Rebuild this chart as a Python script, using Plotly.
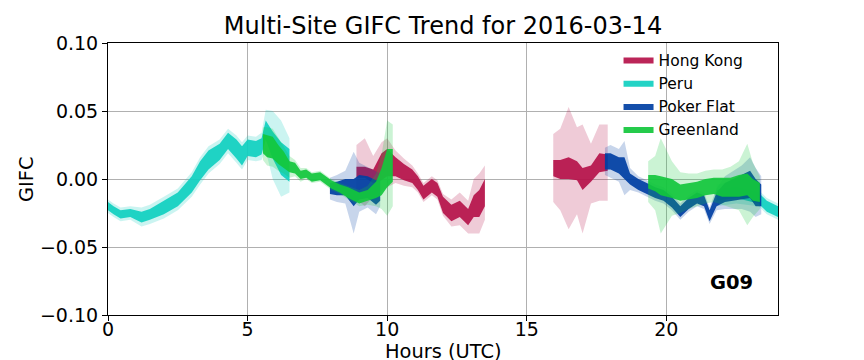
import plotly.graph_objects as go

# ---- data (None separates time segments) ----
# each series: time (h), centre value, half-width of dense core, half-width of sparse halo
HK_T    = [8.9, 9.2, 9.5, 9.8, 10.0, 10.3, 10.6, 10.9, 11.1, 11.3, 11.6, 11.8, 12.0, 12.3, 12.6, 12.9, 13.1, 13.3, 13.5,
           None, 15.95, 16.2, 16.5, 16.8, 17.0, 17.3, 17.6, 17.9]
HK_MID  = [0.005, 0.005, 0.002, 0.009, 0.012, 0.009, 0.005, 0.002, -0.003, -0.010, -0.005, -0.008, -0.019, -0.025, -0.022, -0.028, -0.020, -0.018, -0.010,
           None, 0.008, 0.007, 0.008, 0.006, 0.000, 0.004, 0.012, 0.012]
HK_CORE = [0.004, 0.004, 0.005, 0.010, 0.010, 0.007, 0.006, 0.005, 0.005, 0.005, 0.005, 0.005, 0.006, 0.006, 0.006, 0.006, 0.008, 0.010, 0.010,
           None, 0.006, 0.007, 0.008, 0.007, 0.008, 0.006, 0.007, 0.006]
HK_HALO = [0.020, 0.025, 0.015, 0.018, 0.018, 0.012, 0.010, 0.008, 0.007, 0.007, 0.007, 0.007, 0.008, 0.010, 0.012, 0.012, 0.020, 0.022, 0.020,
           None, 0.025, 0.030, 0.045, 0.032, 0.040, 0.022, 0.028, 0.028]

PERU_T    = [0.0, 0.2, 0.45, 0.8, 1.2, 1.5, 2.0, 2.5, 3.0, 3.3, 3.6, 4.0, 4.3, 4.6, 4.8, 5.0, 5.3, 5.5, 5.65, 5.9, 6.2, 6.5,
             None, 21.8, 22.5, 23.3, 23.6, 24.0]
PERU_MID  = [-0.020, -0.023, -0.026, -0.025, -0.028, -0.026, -0.021, -0.015, -0.004, 0.006, 0.014, 0.020, 0.028, 0.022, 0.017, 0.023, 0.022, 0.024, 0.036, 0.025, 0.015, 0.010,
             None, -0.012, -0.010, -0.014, -0.020, -0.024]
PERU_CORE = [0.003, 0.003, 0.003, 0.003, 0.004, 0.004, 0.005, 0.005, 0.006, 0.007, 0.007, 0.006, 0.006, 0.007, 0.007, 0.006, 0.006, 0.006, 0.007, 0.010, 0.012, 0.012,
             None, 0.004, 0.004, 0.004, 0.004, 0.004]
PERU_HALO = [0.005, 0.005, 0.005, 0.005, 0.007, 0.007, 0.008, 0.008, 0.009, 0.010, 0.010, 0.009, 0.009, 0.010, 0.010, 0.009, 0.009, 0.010, 0.015, 0.025, 0.028, 0.020,
             None, 0.008, 0.008, 0.006, 0.006, 0.006]

PF_T    = [7.95, 8.2, 8.5, 8.8, 9.0, 9.3, 9.6, 9.75,
           None, 17.8, 18.0, 18.3, 18.5, 18.7, 19.0, 19.3, 19.6, 19.9, 20.2, 20.5, 20.8, 21.1, 21.35, 21.55, 21.8, 22.1, 22.4, 22.7, 23.0, 23.2, 23.4]
PF_MID  = [-0.007, -0.007, -0.006, -0.010, -0.006, -0.006, -0.010, -0.008,
           None, 0.013, 0.013, 0.010, 0.008, 0.000, -0.004, -0.007, -0.010, -0.012, -0.017, -0.024, -0.018, -0.014, -0.016, -0.027, -0.015, -0.010, -0.008, -0.006, -0.004, -0.010, -0.012]
PF_CORE = [0.004, 0.005, 0.006, 0.010, 0.009, 0.008, 0.009, 0.008,
           None, 0.006, 0.006, 0.006, 0.008, 0.004, 0.004, 0.004, 0.004, 0.004, 0.004, 0.004, 0.004, 0.004, 0.004, 0.004, 0.005, 0.007, 0.008, 0.009, 0.010, 0.010, 0.008]
PF_HALO = [0.008, 0.010, 0.012, 0.030, 0.018, 0.015, 0.016, 0.012,
           None, 0.010, 0.012, 0.012, 0.020, 0.008, 0.006, 0.006, 0.006, 0.006, 0.006, 0.006, 0.006, 0.006, 0.006, 0.006, 0.008, 0.012, 0.014, 0.016, 0.020, 0.018, 0.014]

GL_T    = [5.55, 5.7, 5.9, 6.1, 6.3, 6.5, 6.7, 6.9, 7.1, 7.3, 7.6, 8.0, 8.3, 8.6, 9.0, 9.3, 9.6, 9.8, 10.0, 10.2,
           None, 19.35, 19.6, 19.8, 20.2, 20.5, 20.8, 21.1, 21.4, 21.7, 22.0, 22.3, 22.6, 22.9, 23.1, 23.35]
GL_MID  = [0.026, 0.024, 0.023, 0.018, 0.014, 0.009, 0.008, 0.003, 0.004, 0.001, 0.002, -0.004, -0.007, -0.010, -0.014, -0.012, -0.008, -0.002, 0.008, 0.010,
           None, -0.002, -0.003, -0.005, -0.007, -0.010, -0.009, -0.008, -0.006, -0.005, -0.006, -0.006, -0.005, -0.004, -0.008, -0.010]
GL_CORE = [0.007, 0.008, 0.008, 0.007, 0.006, 0.004, 0.004, 0.003, 0.003, 0.003, 0.003, 0.003, 0.003, 0.004, 0.004, 0.004, 0.006, 0.010, 0.014, 0.012,
           None, 0.005, 0.006, 0.007, 0.007, 0.006, 0.006, 0.006, 0.006, 0.006, 0.007, 0.007, 0.008, 0.008, 0.008, 0.007]
GL_HALO = [0.012, 0.014, 0.014, 0.012, 0.010, 0.008, 0.006, 0.005, 0.004, 0.004, 0.004, 0.004, 0.004, 0.005, 0.006, 0.007, 0.012, 0.020, 0.035, 0.030,
           None, 0.015, 0.020, 0.035, 0.020, 0.015, 0.013, 0.012, 0.012, 0.012, 0.013, 0.015, 0.018, 0.030, 0.020, 0.012]

SITES = ["Hong Kong", "Peru", "Poker Flat", "Greenland"]
COLORS = {"Hong Kong": (181, 18, 74), "Peru": (16, 207, 192),
          "Poker Flat": (0, 63, 163), "Greenland": (18, 199, 60)}
SERIES = {"Hong Kong": (HK_T, HK_MID, HK_CORE, HK_HALO),
          "Peru": (PERU_T, PERU_MID, PERU_CORE, PERU_HALO),
          "Poker Flat": (PF_T, PF_MID, PF_CORE, PF_HALO),
          "Greenland": (GL_T, GL_MID, GL_CORE, GL_HALO)}

X_TICKS = [0, 5, 10, 15, 20]
Y_TICKS = [-0.10, -0.05, 0.00, 0.05, 0.10]


def band(t, mid, width):
    """Build closed polygons (one per segment) around mid +/- width."""
    xs, ys = [], []
    seg = []
    for i in range(len(t) + 1):
        if i == len(t) or t[i] is None:
            if seg:
                tt = [t[j] for j in seg]
                hi = [mid[j] + width[j] for j in seg]
                lo = [mid[j] - width[j] for j in seg]
                xs += tt + tt[::-1] + [tt[0], None]
                ys += hi + lo[::-1] + [hi[0], None]
            seg = []
        else:
            seg.append(i)
    return xs, ys


fig = go.Figure()
for site in SITES:
    t, mid, core, halo = SERIES[site]
    r, g, b = COLORS[site]
    hx, hy = band(t, mid, halo)
    fig.add_trace(go.Scatter(x=hx, y=hy, fill="toself", mode="lines", line=dict(width=0),
                             fillcolor=f"rgba({r},{g},{b},0.22)", hoverinfo="skip",
                             showlegend=False, legendgroup=site))
    cx, cy = band(t, mid, core)
    fig.add_trace(go.Scatter(x=cx, y=cy, fill="toself", mode="lines", line=dict(width=0),
                             fillcolor=f"rgba({r},{g},{b},0.92)", name=site,
                             showlegend=True, legendgroup=site))

FONT = "DejaVu Sans"
axis_common = dict(showgrid=True, gridcolor="#b0b0b0", gridwidth=1, showline=True, linecolor="black",
                   linewidth=1, mirror=True, ticks="outside", ticklen=5, tickcolor="black",
                   tickfont=dict(family=FONT, size=19, color="black"), zeroline=False)

fig.update_layout(
    width=864, height=360,
    margin=dict(l=108, r=86, t=43, b=45),
    paper_bgcolor="white", plot_bgcolor="white",
    title=dict(text="Multi-Site GIFC Trend for 2016-03-14", x=0.5, xref="paper", xanchor="center",
               y=1 - 26 / 360, yref="container", yanchor="middle",
               font=dict(family=FONT, size=24, color="black")),
    xaxis=dict(range=[0, 24], tickvals=X_TICKS, ticktext=[str(v) for v in X_TICKS],
               ticklabelstandoff=-8, **axis_common),
    yaxis=dict(range=[-0.1, 0.1], tickvals=Y_TICKS, tickformat=".2f", **axis_common),
    legend=dict(x=0.762, y=1.0, xanchor="left", yanchor="top", bgcolor="rgba(0,0,0,0)",
                font=dict(family=FONT, size=15.5, color="black"), traceorder="normal",
                tracegroupgap=0),
    showlegend=True,
    annotations=[
        dict(text="Hours (UTC)", x=0.5, y=-0.085, xref="paper", yref="paper", xanchor="center",
             yanchor="top", showarrow=False, font=dict(family=FONT, size=19.4, color="black")),
        dict(text="GIFC", x=-0.1224, y=0.5, xref="paper", yref="paper", xanchor="center",
             yanchor="middle", textangle=-90, showarrow=False,
             font=dict(family=FONT, size=19.4, color="black")),
        dict(text="<b>G09</b>", x=0.9657, y=0.121, xref="paper", yref="paper", xanchor="right",
             yanchor="middle", showarrow=False, font=dict(family=FONT, size=19.5, color="black")),
    ],
)

fig.write_html("out.html", config={"displayModeBar": False},
               post_script="document.body.style.margin='0px';")
